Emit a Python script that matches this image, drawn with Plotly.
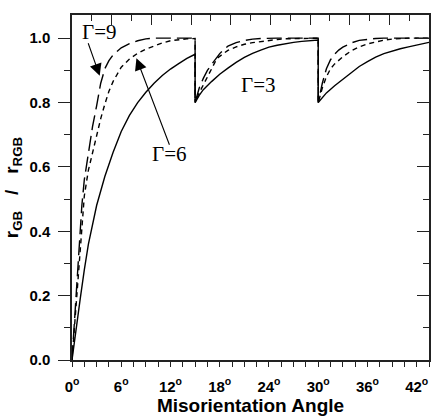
import plotly.graph_objects as go

# Misorientation angle (degrees) and normalised GB energy r_GB / r_RGB
g3_x = [0, 0.5, 1, 1.5, 2, 3, 4, 5, 6, 7, 8, 9, 10, 11, 12, 13, 14, 15,
        15, 15.5, 16, 17, 18, 19, 20, 21, 22, 23, 24, 25, 26, 27, 28, 29, 30,
        30, 30.5, 31, 32, 33, 34, 35, 36, 37, 38, 39, 40, 41, 42, 43, 43.5]
g3_y = [0, 0.10, 0.19, 0.28, 0.36, 0.48, 0.57, 0.645, 0.71, 0.76, 0.80, 0.832, 0.86, 0.884, 0.904, 0.921, 0.937, 0.95,
        0.80, 0.822, 0.84, 0.865, 0.888, 0.907, 0.925, 0.94, 0.953, 0.963, 0.972, 0.978, 0.983, 0.987, 0.99, 0.992, 0.994,
        0.80, 0.815, 0.83, 0.852, 0.873, 0.893, 0.912, 0.927, 0.941, 0.952, 0.96, 0.967, 0.973, 0.978, 0.984, 0.987]

g6_x = [0, 0.3, 0.6, 0.9, 1.2, 1.5, 2, 2.5, 3, 3.5, 4, 4.5, 5, 5.5, 6, 7, 8, 9, 10, 11, 12, 13, 14, 15,
        15, 15.5, 16, 16.5, 17, 17.66, 18.5, 19, 20, 21, 22, 23, 24, 25, 26, 28, 30,
        30, 30.5, 31, 31.5, 32, 33, 34, 35, 36, 37, 38, 39, 40, 41, 43.5]
g6_y = [0, 0.10, 0.21, 0.33, 0.43, 0.51, 0.59, 0.645, 0.69, 0.75, 0.795, 0.835, 0.865, 0.89, 0.91, 0.935, 0.953, 0.966, 0.976, 0.985, 0.992, 0.996, 0.998, 0.999,
        0.80, 0.83, 0.855, 0.88, 0.905, 0.937, 0.953, 0.962, 0.973, 0.981, 0.986, 0.99, 0.994, 0.996, 0.998, 0.999, 1.0,
        0.80, 0.845, 0.88, 0.905, 0.92, 0.942, 0.96, 0.973, 0.982, 0.989, 0.994, 0.997, 0.999, 1.0, 1.0]

g9_x = [0, 0.3, 0.6, 0.9, 1.2, 1.5, 2, 2.5, 3, 3.5, 4, 4.5, 5, 5.5, 6, 7, 8, 9, 10, 12, 15,
        15, 15.5, 16, 16.5, 17, 17.5, 18, 18.5, 19, 20, 21, 22, 23, 25, 30,
        30, 30.5, 31, 31.5, 32, 32.5, 33, 34, 35, 36, 37, 38, 43.5]
g9_y = [0, 0.12, 0.27, 0.38, 0.48, 0.56, 0.65, 0.725, 0.79, 0.86, 0.905, 0.93, 0.948, 0.96, 0.97, 0.983, 0.992, 0.998, 1.0, 1.0, 1.0,
        0.80, 0.845, 0.875, 0.9, 0.918, 0.936, 0.952, 0.965, 0.975, 0.986, 0.993, 0.997, 0.999, 1.0, 1.0,
        0.80, 0.86, 0.905, 0.933, 0.95, 0.963, 0.972, 0.985, 0.993, 0.997, 0.999, 1.0, 1.0]

x_tickvals = [0, 6, 12, 18, 24, 30, 36, 42]
x_ticktext = [f"{v}<sup>o</sup>" for v in x_tickvals]
y_tickvals = [0.0, 0.2, 0.4, 0.6, 0.8, 1.0]

labels = ["Γ=9", "Γ=6", "Γ=3"]
label_pos = [(3.26, 1.02), (11.8, 0.64), (22.65, 0.856)]
arrows = [((3.38, 0.883), (1.91, 0.989)), ((7.85, 0.938), (11.94, 0.664))]

fig = go.Figure()
fig.add_trace(go.Scatter(x=g3_x, y=g3_y, mode="lines", line=dict(color="black", width=1.4), showlegend=False))
fig.add_trace(go.Scatter(x=g6_x, y=g6_y, mode="lines", line=dict(color="black", width=1.4, dash="5px,4px"), showlegend=False))
fig.add_trace(go.Scatter(x=g9_x, y=g9_y, mode="lines", line=dict(color="black", width=1.4, dash="15px,6px"), showlegend=False))
# invisible trace so the top/right auxiliary axes are drawn
fig.add_trace(go.Scatter(x=[0], y=[0], xaxis="x2", yaxis="y2", mode="markers",
                         marker=dict(opacity=0), showlegend=False, hoverinfo="skip"))

axcol = "#222"
tickfont = dict(family="Liberation Sans, Arial", size=15, color="black", weight="bold")

fig.update_layout(
    width=434, height=416,
    margin=dict(l=72, r=5, t=15, b=54),
    paper_bgcolor="white", plot_bgcolor="white",
    xaxis=dict(range=[0, 43.5], showgrid=False, zeroline=False, showline=True,
               linecolor=axcol, linewidth=1.5, ticks="outside", ticklen=5, tickwidth=1.2,
               tickcolor=axcol, tickvals=x_tickvals, ticktext=x_ticktext, tickfont=tickfont,
               ticklabelstandoff=7,
               minor=dict(dtick=1.5, ticks="outside", ticklen=5, tickwidth=1.2, tickcolor=axcol, showgrid=False),
               title=dict(text="Misorientation Angle", standoff=3,
                          font=dict(family="Liberation Sans, Arial", size=19, color="black", weight="bold"))),
    yaxis=dict(range=[0, 1.072], showgrid=False, zeroline=False, showline=True,
               linecolor=axcol, linewidth=1.5, ticks="outside", ticklen=12, tickwidth=1.2,
               tickcolor=axcol, tickvals=y_tickvals, tickformat=".1f", tickfont=tickfont,
               ticklabelstandoff=5,
               minor=dict(dtick=0.1, ticks="outside", ticklen=6, tickwidth=1.2, tickcolor=axcol, showgrid=False),
               title=dict(text="r<sub>GB</sub>   /   r<sub>RGB</sub>", standoff=6,
                          font=dict(family="Liberation Sans, Arial", size=19, color="black", weight="bold"))),
    xaxis2=dict(overlaying="x", side="top", anchor="y2", range=[0, 9], showgrid=False, zeroline=False,
                showline=True, linecolor=axcol, linewidth=1.5, ticks="inside", ticklen=10, tickwidth=1.2,
                tickcolor=axcol, dtick=1, showticklabels=False,
                minor=dict(dtick=0.5, ticks="inside", ticklen=6, tickwidth=1.2, tickcolor=axcol, showgrid=False)),
    yaxis2=dict(overlaying="y", side="right", anchor="x2", range=[0, 1.072], showgrid=False, zeroline=False,
                showline=True, linecolor=axcol, linewidth=1.5, ticks="inside", ticklen=12, tickwidth=1.2,
                tickcolor=axcol, dtick=0.2, showticklabels=False,
                minor=dict(dtick=0.1, ticks="inside", ticklen=6, tickwidth=1.2, tickcolor=axcol, showgrid=False)),
)

for txt, (lx, ly) in zip(labels, label_pos):
    fig.add_annotation(x=lx, y=ly, xref="x", yref="y", text=txt, showarrow=False,
                       font=dict(family="Liberation Serif, Times New Roman", size=21, color="black"))

for (hx, hy), (tx, ty) in arrows:
    fig.add_annotation(x=hx, y=hy, xref="x", yref="y", ax=tx, ay=ty, axref="x", ayref="y",
                       text="", showarrow=True, arrowhead=2, arrowsize=2.2, arrowwidth=1.1,
                       arrowcolor="black")

fig.write_html("out.html")
